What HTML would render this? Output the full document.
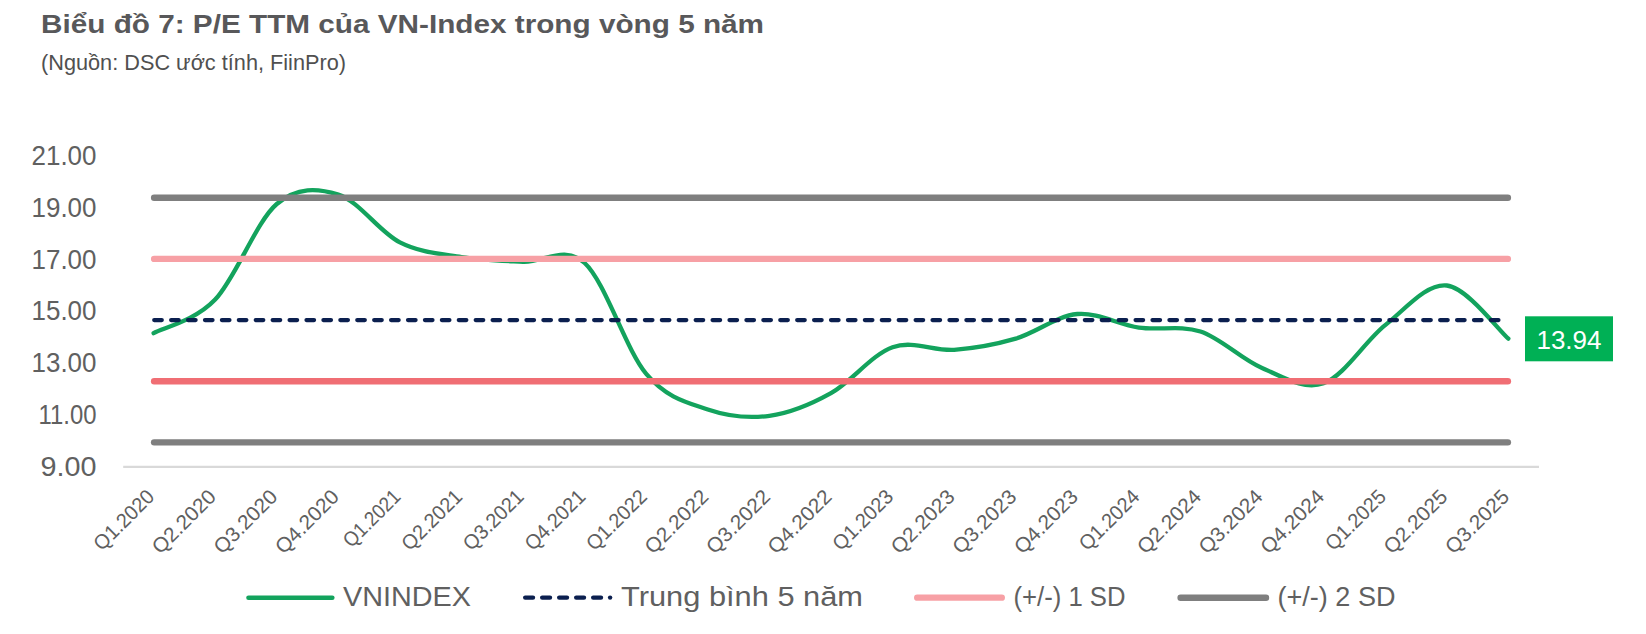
<!DOCTYPE html>
<html><head><meta charset="utf-8"><style>
html,body{margin:0;padding:0;background:#fff;width:1646px;height:634px;overflow:hidden}
svg{display:block}
text{font-family:"Liberation Sans",sans-serif}
</style></head><body>
<svg width="1646" height="634" viewBox="0 0 1646 634">
<text x="41" y="33.3" font-family="Liberation Sans" font-weight="bold" font-size="25.5" fill="#58585A" textLength="723" lengthAdjust="spacingAndGlyphs">Biểu đồ 7: P/E TTM của VN-Index trong vòng 5 năm</text>
<text x="41" y="70" font-family="Liberation Sans" font-size="22" fill="#505050" textLength="305" lengthAdjust="spacingAndGlyphs">(Nguồn: DSC ước tính, FiinPro)</text>
<text x="31.5" y="165.0" font-family="Liberation Sans" font-size="27.5" fill="#606060" textLength="65" lengthAdjust="spacingAndGlyphs">21.00</text>
<text x="31.5" y="216.8" font-family="Liberation Sans" font-size="27.5" fill="#606060" textLength="65" lengthAdjust="spacingAndGlyphs">19.00</text>
<text x="31.5" y="268.6" font-family="Liberation Sans" font-size="27.5" fill="#606060" textLength="65" lengthAdjust="spacingAndGlyphs">17.00</text>
<text x="31.5" y="320.4" font-family="Liberation Sans" font-size="27.5" fill="#606060" textLength="65" lengthAdjust="spacingAndGlyphs">15.00</text>
<text x="31.5" y="372.2" font-family="Liberation Sans" font-size="27.5" fill="#606060" textLength="65" lengthAdjust="spacingAndGlyphs">13.00</text>
<text x="38.5" y="424.0" font-family="Liberation Sans" font-size="27.5" fill="#606060" textLength="58" lengthAdjust="spacingAndGlyphs">11.00</text>
<text x="40.5" y="475.8" font-family="Liberation Sans" font-size="27.5" fill="#606060" textLength="56" lengthAdjust="spacingAndGlyphs">9.00</text>
<line x1="123.2" y1="466.9" x2="1539" y2="466.9" stroke="#D9D9D9" stroke-width="2.2"/>
<path d="M153.60,333.14 C163.86,327.54 194.65,321.06 215.18,299.54 C235.71,278.02 256.23,221.49 276.76,204.00 C297.29,186.51 317.81,188.18 338.34,194.58 C358.87,200.98 379.39,231.98 399.92,242.39 C420.45,252.80 440.97,253.81 461.50,257.03 C482.03,260.25 502.55,260.74 523.08,261.73 C543.61,262.72 564.13,244.30 584.66,262.99 C605.19,281.69 625.71,349.48 646.24,373.90 C666.77,398.32 687.29,402.52 707.82,409.50 C728.35,416.48 748.87,418.53 769.40,415.80 C789.93,413.07 810.45,404.53 830.98,393.10 C851.51,381.67 872.03,354.42 892.56,347.20 C913.09,339.98 933.61,351.21 954.14,349.78 C974.67,348.35 995.19,344.60 1015.72,338.64 C1036.25,332.68 1056.77,315.84 1077.30,314.01 C1097.83,312.18 1118.35,324.72 1138.88,327.64 C1159.41,330.56 1179.93,324.78 1200.46,331.51 C1220.99,338.24 1241.51,359.41 1262.04,368.04 C1282.57,376.67 1303.09,390.43 1323.62,383.28 C1344.15,376.13 1364.67,341.44 1385.20,325.15 C1405.73,308.85 1426.25,283.26 1446.78,285.51 C1467.31,287.76 1498.10,329.79 1508.36,338.65" fill="none" stroke="#13A35D" stroke-width="4.3" stroke-linecap="round" stroke-linejoin="round"/>
<line x1="154.2" y1="320.1" x2="1498.5" y2="320.1" stroke="#0B1F4F" stroke-width="4.2" stroke-linecap="round" stroke-dasharray="7.6 9.32"/>
<line x1="154.1" y1="258.95" x2="1507.9" y2="258.95" stroke="#F7A0A5" stroke-width="6.3" stroke-linecap="round"/>
<line x1="154.1" y1="381.2" x2="1507.9" y2="381.2" stroke="#F06E74" stroke-width="6.4" stroke-linecap="round"/>
<line x1="154.1" y1="197.8" x2="1507.9" y2="197.8" stroke="#7F7F7F" stroke-width="6.4" stroke-linecap="round"/>
<line x1="154.1" y1="442.35" x2="1507.9" y2="442.35" stroke="#7F7F7F" stroke-width="6.4" stroke-linecap="round"/>
<rect x="1525" y="316.3" width="88" height="45" fill="#00B055"/>
<text x="1569" y="348.8" text-anchor="middle" font-family="Liberation Sans" font-size="26" fill="#FFFFFF">13.94</text>
<text transform="translate(155.6,498) rotate(-45)" x="-76.0" y="0" font-family="Liberation Sans" font-size="20.5" fill="#606060" textLength="76.0" lengthAdjust="spacingAndGlyphs">Q1.2020</text>
<text transform="translate(217.2,498) rotate(-45)" x="-80.5" y="0" font-family="Liberation Sans" font-size="20.5" fill="#606060" textLength="80.5" lengthAdjust="spacingAndGlyphs">Q2.2020</text>
<text transform="translate(278.8,498) rotate(-45)" x="-80.5" y="0" font-family="Liberation Sans" font-size="20.5" fill="#606060" textLength="80.5" lengthAdjust="spacingAndGlyphs">Q3.2020</text>
<text transform="translate(340.3,498) rotate(-45)" x="-80.5" y="0" font-family="Liberation Sans" font-size="20.5" fill="#606060" textLength="80.5" lengthAdjust="spacingAndGlyphs">Q4.2020</text>
<text transform="translate(401.9,498) rotate(-45)" x="-71.5" y="0" font-family="Liberation Sans" font-size="20.5" fill="#606060" textLength="71.5" lengthAdjust="spacingAndGlyphs">Q1.2021</text>
<text transform="translate(463.5,498) rotate(-45)" x="-76.0" y="0" font-family="Liberation Sans" font-size="20.5" fill="#606060" textLength="76.0" lengthAdjust="spacingAndGlyphs">Q2.2021</text>
<text transform="translate(525.1,498) rotate(-45)" x="-76.0" y="0" font-family="Liberation Sans" font-size="20.5" fill="#606060" textLength="76.0" lengthAdjust="spacingAndGlyphs">Q3.2021</text>
<text transform="translate(586.7,498) rotate(-45)" x="-76.0" y="0" font-family="Liberation Sans" font-size="20.5" fill="#606060" textLength="76.0" lengthAdjust="spacingAndGlyphs">Q4.2021</text>
<text transform="translate(648.2,498) rotate(-45)" x="-76.0" y="0" font-family="Liberation Sans" font-size="20.5" fill="#606060" textLength="76.0" lengthAdjust="spacingAndGlyphs">Q1.2022</text>
<text transform="translate(709.8,498) rotate(-45)" x="-80.5" y="0" font-family="Liberation Sans" font-size="20.5" fill="#606060" textLength="80.5" lengthAdjust="spacingAndGlyphs">Q2.2022</text>
<text transform="translate(771.4,498) rotate(-45)" x="-80.5" y="0" font-family="Liberation Sans" font-size="20.5" fill="#606060" textLength="80.5" lengthAdjust="spacingAndGlyphs">Q3.2022</text>
<text transform="translate(833.0,498) rotate(-45)" x="-80.5" y="0" font-family="Liberation Sans" font-size="20.5" fill="#606060" textLength="80.5" lengthAdjust="spacingAndGlyphs">Q4.2022</text>
<text transform="translate(894.6,498) rotate(-45)" x="-76.0" y="0" font-family="Liberation Sans" font-size="20.5" fill="#606060" textLength="76.0" lengthAdjust="spacingAndGlyphs">Q1.2023</text>
<text transform="translate(956.1,498) rotate(-45)" x="-80.5" y="0" font-family="Liberation Sans" font-size="20.5" fill="#606060" textLength="80.5" lengthAdjust="spacingAndGlyphs">Q2.2023</text>
<text transform="translate(1017.7,498) rotate(-45)" x="-80.5" y="0" font-family="Liberation Sans" font-size="20.5" fill="#606060" textLength="80.5" lengthAdjust="spacingAndGlyphs">Q3.2023</text>
<text transform="translate(1079.3,498) rotate(-45)" x="-80.5" y="0" font-family="Liberation Sans" font-size="20.5" fill="#606060" textLength="80.5" lengthAdjust="spacingAndGlyphs">Q4.2023</text>
<text transform="translate(1140.9,498) rotate(-45)" x="-76.0" y="0" font-family="Liberation Sans" font-size="20.5" fill="#606060" textLength="76.0" lengthAdjust="spacingAndGlyphs">Q1.2024</text>
<text transform="translate(1202.5,498) rotate(-45)" x="-80.5" y="0" font-family="Liberation Sans" font-size="20.5" fill="#606060" textLength="80.5" lengthAdjust="spacingAndGlyphs">Q2.2024</text>
<text transform="translate(1264.0,498) rotate(-45)" x="-80.5" y="0" font-family="Liberation Sans" font-size="20.5" fill="#606060" textLength="80.5" lengthAdjust="spacingAndGlyphs">Q3.2024</text>
<text transform="translate(1325.6,498) rotate(-45)" x="-80.5" y="0" font-family="Liberation Sans" font-size="20.5" fill="#606060" textLength="80.5" lengthAdjust="spacingAndGlyphs">Q4.2024</text>
<text transform="translate(1387.2,498) rotate(-45)" x="-76.0" y="0" font-family="Liberation Sans" font-size="20.5" fill="#606060" textLength="76.0" lengthAdjust="spacingAndGlyphs">Q1.2025</text>
<text transform="translate(1448.8,498) rotate(-45)" x="-80.5" y="0" font-family="Liberation Sans" font-size="20.5" fill="#606060" textLength="80.5" lengthAdjust="spacingAndGlyphs">Q2.2025</text>
<text transform="translate(1510.4,498) rotate(-45)" x="-80.5" y="0" font-family="Liberation Sans" font-size="20.5" fill="#606060" textLength="80.5" lengthAdjust="spacingAndGlyphs">Q3.2025</text>
<line x1="248.5" y1="597.8" x2="332.3" y2="597.8" stroke="#13A35D" stroke-width="4.6" stroke-linecap="round"/>
<text x="343" y="606" font-family="Liberation Sans" font-size="28" fill="#606060" textLength="128" lengthAdjust="spacingAndGlyphs">VNINDEX</text>
<line x1="525.2" y1="597.6" x2="608" y2="597.6" stroke="#0B1F4F" stroke-width="4.4" stroke-linecap="round" stroke-dasharray="7.8 9.2"/><circle cx="610.1" cy="597.6" r="2.2" fill="#0B1F4F"/>
<text x="621" y="606" font-family="Liberation Sans" font-size="28" fill="#606060" textLength="242" lengthAdjust="spacingAndGlyphs">Trung bình 5 năm</text>
<line x1="917.2" y1="597.7" x2="1001.8" y2="597.7" stroke="#F7A0A5" stroke-width="6.3" stroke-linecap="round"/>
<text x="1013.5" y="606" font-family="Liberation Sans" font-size="28" fill="#606060" textLength="112" lengthAdjust="spacingAndGlyphs">(+/-) 1 SD</text>
<line x1="1180.6" y1="597.7" x2="1266" y2="597.7" stroke="#7F7F7F" stroke-width="6.4" stroke-linecap="round"/>
<text x="1277.5" y="606" font-family="Liberation Sans" font-size="28" fill="#606060" textLength="118" lengthAdjust="spacingAndGlyphs">(+/-) 2 SD</text>
</svg>
</body></html>
